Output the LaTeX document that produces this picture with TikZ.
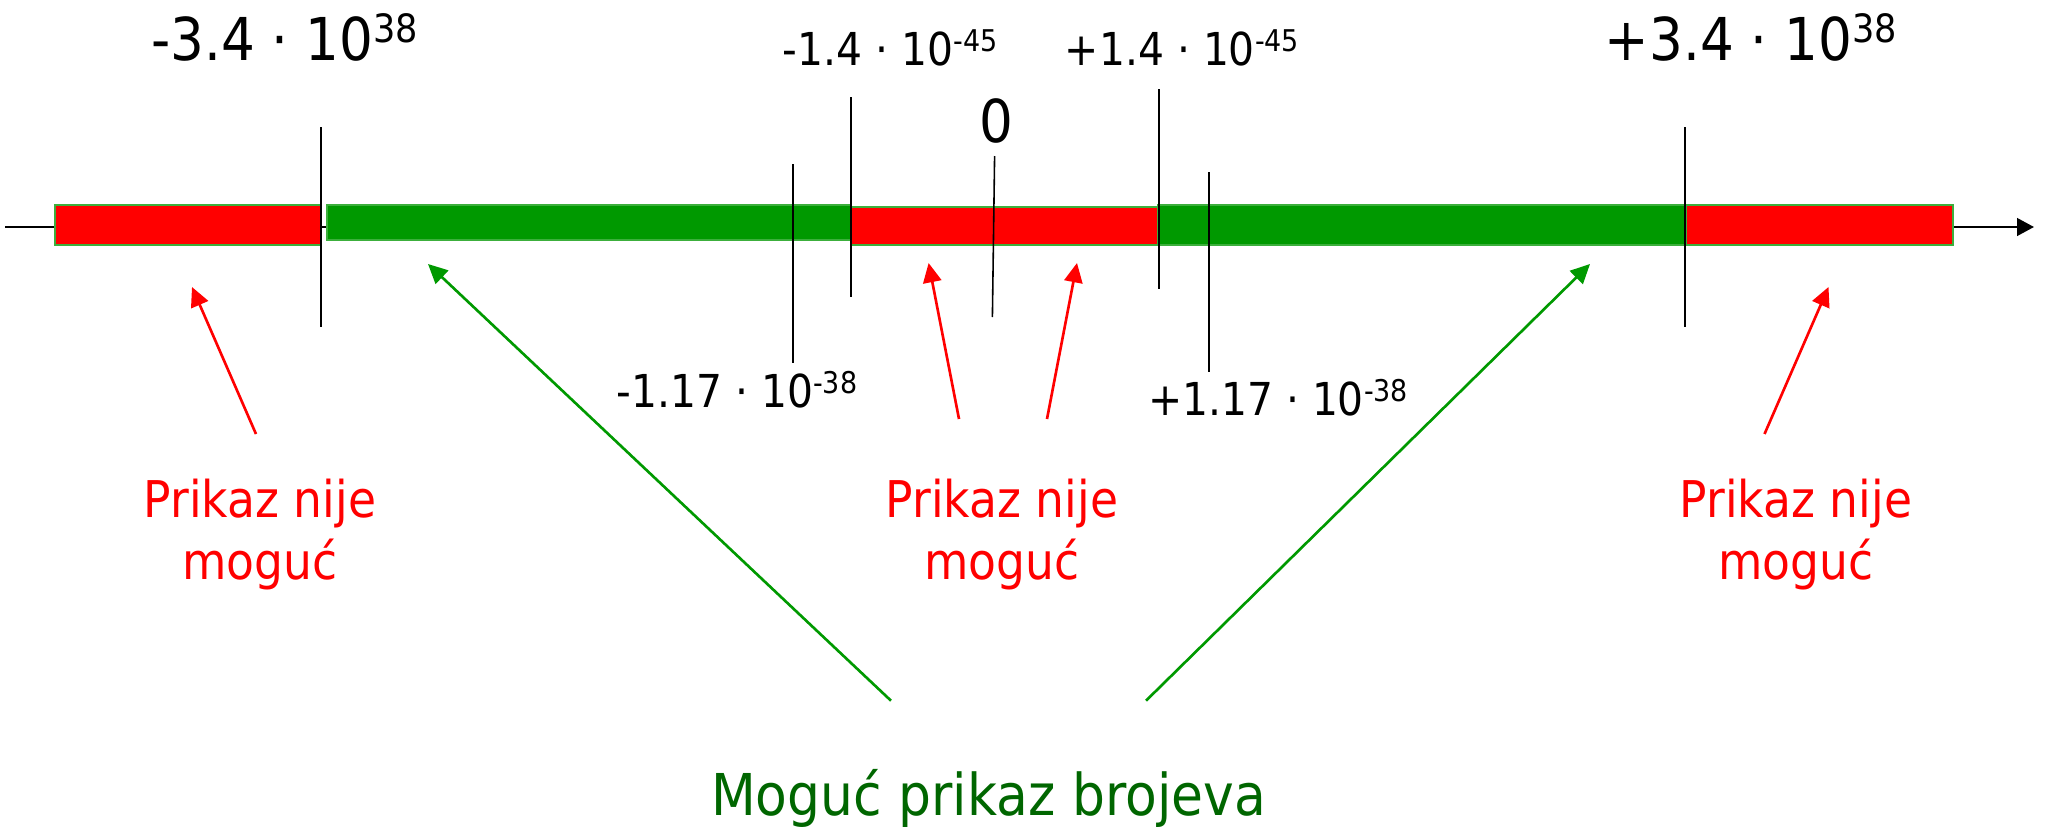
\documentclass[tikz,border=0pt]{standalone}
\usepackage{fontspec}
\setmainfont{DejaVu Sans}[FakeStretch=0.9]
\usepackage{tikz}
\usetikzlibrary{arrows.meta}
\definecolor{redbar}{RGB}{255,0,0}
\definecolor{greenbar}{RGB}{0,153,0}
\definecolor{greenedge}{RGB}{60,175,60}
\definecolor{greentext}{RGB}{0,102,0}
\newcommand{\pot}[1]{\raisebox{0.3em}{\scalebox{0.66}{#1}}}
\tikzset{
  bigval/.style={anchor=base, inner sep=0pt, font=\fontsize{16.8}{20}\selectfont},
  smallval/.style={anchor=base, inner sep=0pt, font=\fontsize{12.9}{15}\selectfont},
  note/.style={anchor=base, inner sep=0pt, align=center, text=redbar,
    font=\fontsize{14.4}{17.6}\selectfont},
  okno/.style={anchor=base, inner sep=0pt, text=greentext,
    font=\fontsize{16.4}{19}\selectfont},
  redseg/.style={fill=redbar, draw=greenedge, line width=0.4pt},
  grnseg/.style={fill=greenbar, draw=greenedge, line width=0.4pt},
  bigtick/.style={line width=0.75pt},
  smalltick/.style={line width=0.45pt},
  axisline/.style={-{Triangle[length=4.8pt,width=5pt]}, line width=0.65pt},
  redarr/.style={-{Triangle[length=5.5pt,width=5.2pt]}, draw=redbar, fill=redbar, line width=0.75pt},
  grnarr/.style={-{Triangle[length=5.5pt,width=5.2pt]}, draw=greenbar, fill=greenbar, line width=0.75pt}
}
\begin{document}
\begin{tikzpicture}[x=0.01cm, y=-0.01cm]
  \useasboundingbox (0,0) rectangle (2051,827);

  % number line and ranges
  \draw[axisline] (5,227) -- (2034,227);
  \draw[redseg] (55,205) rectangle (321,245);
  \draw[grnseg] (327,205) rectangle (851,240);
  \draw[redseg] (851,207) rectangle (1158,245);
  \draw[grnseg] (1158,205) rectangle (1686,245);
  \draw[redseg] (1686,205) rectangle (1953,245);

  % ticks
  \draw[bigtick]   (321,127)   -- (321,327);
  \draw[smalltick] (793,164)   -- (793,363);
  \draw[smalltick] (851,97)    -- (851,297);
  \draw[smalltick] (994.6,156) -- (992.4,317);
  \draw[smalltick] (1159,89)   -- (1159,289);
  \draw[smalltick] (1209,172)  -- (1209,372);
  \draw[bigtick]   (1685,127)  -- (1685,327);

  % limits
  \node[bigval] (maxneg) at (284.5,60) {-3.4 · 10\pot{38}};
  \node[bigval] (maxpos) at (1751,60) {+3.4 · 10\pot{38}};
  \node[smallval] (denneg) at (890,65) {-1.4 · 10\pot{-45}};
  \node[smallval] (denpos) at (1182,65) {+1.4 · 10\pot{-45}};
  \node[bigval] (zero) at (996,142) {0};
  \node[smallval] (normneg) at (737,407) {-1.17 · 10\pot{-38}};
  \node[smallval] (normpos) at (1278,415) {+1.17 · 10\pot{-38}};

  % captions
  \node[note] (nleft)  at (260,579.5)  {Prikaz nije\\moguć};
  \node[note] (nmid)   at (1002,579.5) {Prikaz nije\\moguć};
  \node[note] (nright) at (1796,579.5) {Prikaz nije\\moguć};
  \node[okno] (ok) at (988.5,815) {Moguć prikaz brojeva};

  % arrow ends
  \coordinate (ovl)  at (192,287);
  \coordinate (unl)  at (928.6,263);
  \coordinate (unr)  at (1077,263);
  \coordinate (ovr)  at (1828.5,287);
  \coordinate (rngl) at (428,264);
  \coordinate (rngr) at (1590,264);
  \coordinate (nlft) at (256,434);
  \coordinate (nm1)  at (959,419);
  \coordinate (nm2)  at (1047,419);
  \coordinate (nrgt) at (1764.5,434);
  \coordinate (okl)  at (891,700.7);
  \coordinate (okr)  at (1146,700.7);

  \draw[redarr] (nlft) -- (ovl);
  \draw[redarr] (nm1) -- (unl);
  \draw[redarr] (nm2) -- (unr);
  \draw[redarr] (nrgt) -- (ovr);
  \draw[grnarr] (okl) -- (rngl);
  \draw[grnarr] (okr) -- (rngr);
\end{tikzpicture}
\end{document}
